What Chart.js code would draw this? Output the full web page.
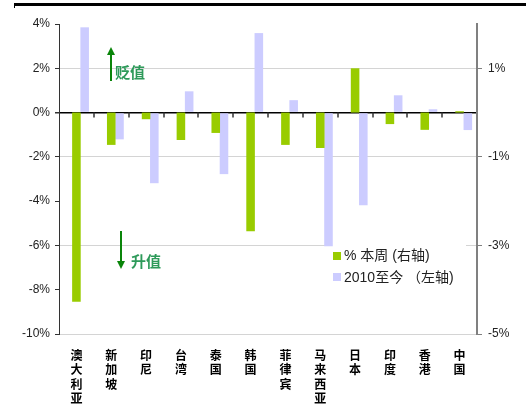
<!DOCTYPE html>
<html>
<head>
<meta charset="utf-8">
<script src="https://cdn.jsdelivr.net/npm/chart.js@4"></script>
<style>
  body { margin: 0; background: #fff; }
  canvas { display: block; }
</style>
</head>
<body>
<canvas id="fxChart" width="526" height="410"></canvas>
<script>

// categories (drawn vertically, one character per line)
const countries = ["澳大利亚", "新加坡", "印尼", "台湾", "泰国", "韩国", "菲律宾", "马来西亚", "日本", "印度", "香港", "中国"];

// % this week, right axis
const weekChange = [-4.27, -0.73, -0.15, -0.62, -0.46, -2.68, -0.73, -0.80, 1.00, -0.26, -0.39, 0.03];

// since 2010, left axis
const since2010 = [3.85, -1.21, -3.19, 0.96, -2.78, 3.59, 0.56, -6.04, -4.18, 0.78, 0.15, -0.79];

const leftTicks = [-10, -8, -6, -4, -2, 0, 2, 4];
const rightTicks = [-5, -3, -1, 1];

const weekLabel = "% 本周 (右轴)";
const sinceLabel = "2010至今 （左轴)";

const GREEN = "#99cc00";
const LAVENDER = "#ccccff";

const overlay = {
  id: "overlay",
  beforeDatasetsDraw(chart){
    const ctx = chart.ctx;
    ctx.save();
    // legend box sits inside the plot, hiding the grid line
    ctx.fillStyle = "#fff";
    ctx.fillRect(327, 244, 139, 48);
    ctx.fillStyle = GREEN;
    ctx.fillRect(333, 252, 8, 8);
    ctx.fillStyle = LAVENDER;
    ctx.fillRect(333, 273, 8, 8);
    ctx.fillStyle = "#222";
    ctx.font = "14px 'Liberation Sans', 'Noto Sans CJK SC'";
    ctx.textBaseline = "middle";
    ctx.textAlign = "left";
    ctx.fillText(weekLabel, 344, 256);
    ctx.fillText(sinceLabel, 344, 278);
    ctx.restore();
  },
  afterDraw(chart){
    const ctx = chart.ctx;
    const x = chart.scales.x;
    const y = chart.scales.yLeft;
    const zero = y.getPixelForValue(0);
    ctx.save();

    // heavy rule on top
    ctx.strokeStyle = "#000";
    ctx.lineWidth = 3;
    ctx.beginPath();
    ctx.moveTo(14, 4.5);
    ctx.lineTo(526, 4.5);
    ctx.stroke();
    ctx.lineWidth = 1;
    ctx.beginPath();
    ctx.moveTo(14.5, 5);
    ctx.lineTo(14.5, 8);
    ctx.stroke();

    // category tick marks under the zero line
    ctx.strokeStyle = "#333";
    ctx.lineWidth = 1.5;
    for(let i = 1; i < countries.length; i++){
      const bx = Math.round((x.getPixelForValue(i - 1) + x.getPixelForValue(i)) / 2);
      ctx.beginPath();
      ctx.moveTo(bx, zero);
      ctx.lineTo(bx, zero + 5);
      ctx.stroke();
    }

    // arrows
    drawArrow(ctx, 111, 81, 47);
    drawArrow(ctx, 121, 231, 269);

    ctx.fillStyle = "#2e9a5a";
    ctx.font = "bold 15px 'Noto Sans CJK SC'";
    ctx.textBaseline = "middle";
    ctx.textAlign = "left";
    ctx.fillText("贬值", 115, 72);
    ctx.fillText("升值", 131, 261);

    ctx.restore();
  }
};

function drawArrow(ctx, x, tail, tip){
  const dir = tip < tail ? 1 : -1;
  ctx.strokeStyle = "#0a850a";
  ctx.fillStyle = "#0a850a";
  ctx.lineWidth = 2;
  ctx.beginPath();
  ctx.moveTo(x, tail);
  ctx.lineTo(x, tip + dir * 6);
  ctx.stroke();
  ctx.beginPath();
  ctx.moveTo(x, tip);
  ctx.lineTo(x - 4, tip + dir * 8);
  ctx.lineTo(x + 4, tip + dir * 8);
  ctx.closePath();
  ctx.fill();
}

const tickFont = { family: "'Liberation Sans', Arial", size: 12 };

new Chart(document.getElementById("fxChart"), {
  type: "bar",
  data: {
    labels: countries.map(c => c.split("")),
    datasets: [
      { label: "", data: countries.map(() => null), yAxisID: "yLeft" },
      {
        label: weekLabel,
        data: weekChange,
        yAxisID: "yRight",
        backgroundColor: GREEN
      },
      {
        label: sinceLabel,
        data: since2010,
        yAxisID: "yLeft",
        backgroundColor: LAVENDER
      }
    ]
  },
  options: {
    responsive: false,
    animation: false,
    layout: { padding: { top: 24, left: 0, right: 0, bottom: 0 } },
    categoryPercentage: 0.71,
    barPercentage: 1.04,
    plugins: {
      legend: { display: false },
      tooltip: { enabled: false }
    },
    scales: {
      x: {
        grid: { display: false, drawTicks: false },
        border: { display: false },
        ticks: {
          autoSkip: false,
          maxRotation: 0,
          padding: 14,
          color: "#000",
          font: { family: "'Noto Sans CJK SC'", size: 12, weight: "bold", lineHeight: 1.2 }
        },
        afterFit(scale){ scale.height = 76; }
      },
      yLeft: {
        position: "left",
        min: -10,
        max: 4,
        afterBuildTicks(scale){ scale.ticks = leftTicks.map(v => ({ value: v })); },
        grid: {
          color: c => c.tick && c.tick.value === 0 ? "#000" : "rgba(0,0,0,0)",
          lineWidth: c => c.tick && c.tick.value === 0 ? 1.5 : 1,
          tickColor: "#333",
          tickLength: 4
        },
        border: { color: "#333", width: 1 },
        ticks: {
          padding: 5,
          color: "#222",
          font: tickFont,
          callback: v => v + "%"
        },
        afterFit(scale){ scale.width = 59; }
      },
      yRight: {
        position: "right",
        min: -5,
        max: 2,
        afterBuildTicks(scale){ scale.ticks = rightTicks.map(v => ({ value: v })); },
        grid: {
          color: "#d4d4d4",
          lineWidth: 1,
          tickColor: "#808080",
          tickLength: 5
        },
        border: { color: "#808080", width: 2 },
        ticks: {
          padding: 6,
          color: "#222",
          font: tickFont,
          callback: v => v + "%"
        },
        afterFit(scale){ scale.width = 49; }
      }
    }
  },
  plugins: [overlay]
});

</script>
</body>
</html>
